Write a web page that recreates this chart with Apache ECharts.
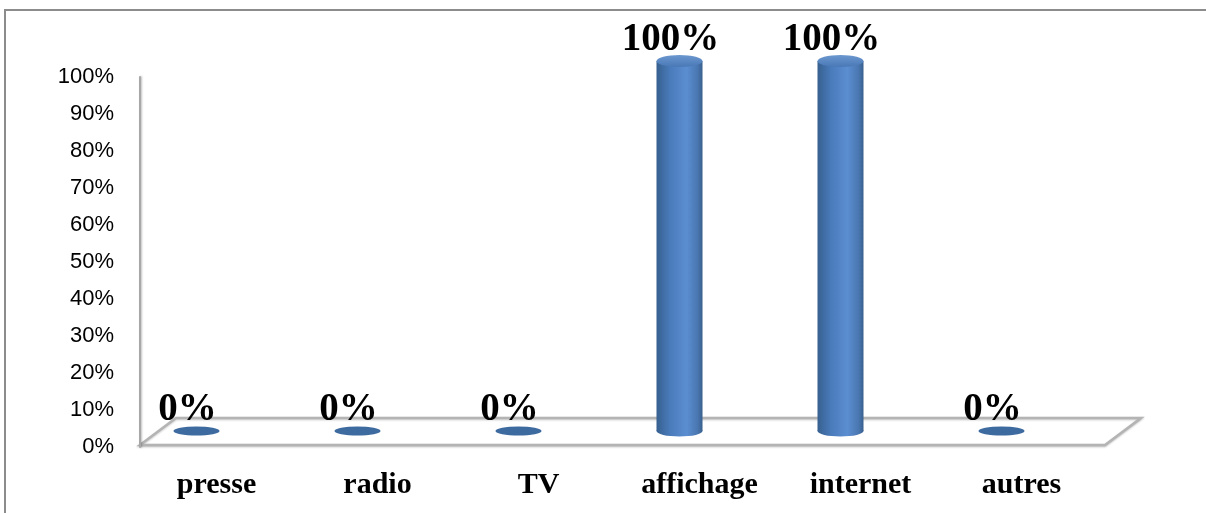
<!DOCTYPE html>
<html>
<head>
<meta charset="utf-8">
<script src="https://cdn.jsdelivr.net/npm/echarts@6/dist/echarts.min.js"></script>
<style>
    html, body { margin: 0; padding: 0; background: #fff; }
    #chart { width: 1206px; height: 513px; }
</style>
</head>
<body>
<div id="chart"></div>
<script>
// données
const categories = ["presse", "radio", "TV", "affichage", "internet", "autres"];
const values = [0, 0, 0, 1, 1, 0];
const yTicks = ["0%", "10%", "20%", "30%", "40%", "50%", "60%", "70%", "80%", "90%", "100%"];

// mise en page
const wallLeft = 140, wallTop = 77, wallWidth = 965, wallHeight = 370;
const depthX = 36, depthY = 27;
const barW = 46;

const bodyColor = new echarts.graphic.LinearGradient(0, 0, 1, 0, [
    { offset: 0, color: "#36608f" },
    { offset: 0.3, color: "#4a7bbb" },
    { offset: 0.65, color: "#5b8ed1" },
    { offset: 0.9, color: "#4976b0" },
    { offset: 1, color: "#395f8c" }
]);
const capColor = new echarts.graphic.LinearGradient(0, 0, 0, 1, [
    { offset: 0, color: "#6d98cf" },
    { offset: 1, color: "#4878b6" }
]);

const chart = echarts.init(document.getElementById("chart"));

const option = {
    backgroundColor: "#fff",
    animation: false,
    grid: [
        // mur / axe des valeurs
        { left: wallLeft, top: wallTop, width: wallWidth, height: wallHeight },
        // barres
        { left: 116, top: 61, width: 966, height: 370 }
    ],
    xAxis: [
        { gridIndex: 0, type: "category", data: categories, show: false },
        {
            gridIndex: 1,
            type: "category",
            data: categories,
            axisLine: { show: false },
            axisTick: { show: false },
            axisLabel: {
                margin: 39,
                padding: [0, 0, 0, 40],
                fontFamily: "Liberation Serif",
                fontWeight: "bold",
                fontSize: 30,
                color: "#000"
            }
        }
    ],
    yAxis: [
        {
            gridIndex: 0,
            type: "value",
            min: 0,
            max: 1,
            interval: 0.1,
            splitLine: { show: false },
            axisTick: { show: false },
            axisLine: {
                show: true,
                lineStyle: { color: "#a8a8a8", width: 2, shadowColor: "rgba(0,0,0,0.25)", shadowBlur: 2, shadowOffsetX: 1 }
            },
            axisLabel: {
                margin: 26,
                fontFamily: "Liberation Sans",
                fontSize: 22,
                color: "#000",
                formatter: (v) => yTicks[Math.round(v * 10)]
            }
        },
        { gridIndex: 1, type: "value", min: 0, max: 1, show: false }
    ],
    graphic: [
        // cadre
        {
            type: "rect",
            shape: { x: 5, y: 10, width: 1230, height: 540 },
            style: { fill: null, stroke: "#8c8c8c", lineWidth: 2 },
            z: 0
        },
        // sol 3D
        {
            type: "polygon",
            shape: {
                points: [
                    [wallLeft, wallTop + wallHeight - 2],
                    [wallLeft + depthX, wallTop + wallHeight - 2 - depthY],
                    [wallLeft + wallWidth + depthX, wallTop + wallHeight - 2 - depthY],
                    [wallLeft + wallWidth, wallTop + wallHeight - 2]
                ]
            },
            style: {
                fill: "#fff",
                stroke: "#b4b4b4",
                lineWidth: 2.5,
                shadowColor: "rgba(0,0,0,0.2)",
                shadowBlur: 2,
                shadowOffsetY: 1
            },
            z: 0
        }
    ],
    series: [
        {
            name: "corps",
            type: "bar",
            xAxisIndex: 1,
            yAxisIndex: 1,
            data: values,
            barWidth: barW,
            itemStyle: { color: bodyColor },
            z: 3,
            label: {
                show: true,
                position: "top",
                distance: 2,
                offset: [-9, 0],
                fontFamily: "Liberation Serif",
                fontWeight: "bold",
                fontSize: 39,
                color: "#000",
                formatter: (p) => Math.round(p.value * 100) + "%"
            }
        },
        {
            name: "base",
            type: "pictorialBar",
            xAxisIndex: 1,
            yAxisIndex: 1,
            data: values.map((v) => (v > 0 ? v : "-")),
            symbol: "circle",
            symbolSize: [barW, 11],
            symbolPosition: "start",
            symbolOffset: [0, "50%"],
            itemStyle: { color: bodyColor },
            z: 2
        },
        {
            name: "sommet",
            type: "pictorialBar",
            xAxisIndex: 1,
            yAxisIndex: 1,
            data: values.map((v) => (v > 0 ? v : "-")),
            symbol: "circle",
            symbolSize: [barW, 12],
            symbolPosition: "end",
            symbolOffset: [0, "-50%"],
            itemStyle: { color: capColor },
            z: 4
        },
        {
            name: "zero",
            type: "pictorialBar",
            xAxisIndex: 1,
            yAxisIndex: 1,
            data: values.map((v) => (v === 0 ? 0 : "-")),
            symbol: "circle",
            symbolSize: [barW, 9],
            symbolPosition: "start",
            symbolOffset: [0, "50%"],
            itemStyle: { color: "#3d6a9f" },
            z: 4
        }
    ]
};

chart.setOption(option);
</script>
</body>
</html>
